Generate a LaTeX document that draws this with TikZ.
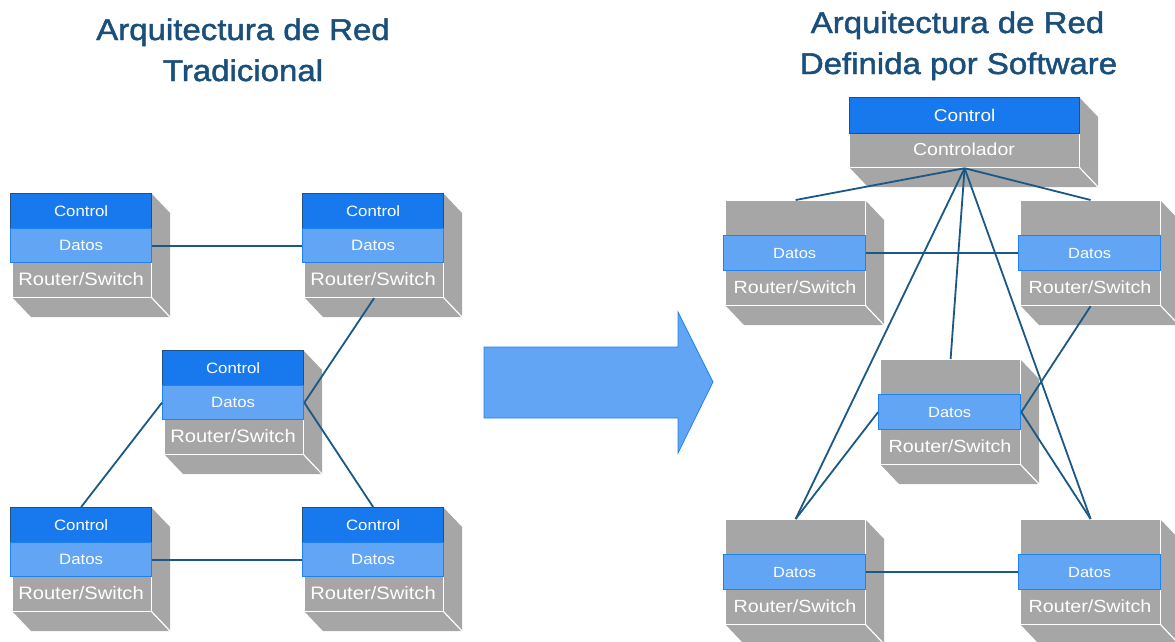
\documentclass[tikz,border=0pt]{standalone}
\usepackage{fontspec}
\setmainfont[FakeStretch=1.12]{Liberation Sans}
\newfontfamily\titlefont[FakeStretch=1.1, FakeBold=1.6]{Liberation Sans}

\definecolor{boxgray}{HTML}{A6A6A6}
\definecolor{ctrlblue}{HTML}{1878EE}
\definecolor{ctrlborder}{HTML}{21527F}
\definecolor{datosblue}{HTML}{62A5F5}
\definecolor{datosborder}{HTML}{1E82F0}
\definecolor{linkblue}{HTML}{1A5886}
\definecolor{titleblue}{HTML}{1B4F7B}

\tikzset{
  front/.style={draw=white, fill=boxgray, line width=1.2pt, inner sep=0pt, anchor=north west},
  ctrlband/.style={draw=ctrlborder, fill=ctrlblue, line width=1.3pt, text=white,
    inner sep=0pt, anchor=north west, font=\fontsize{15}{18}\selectfont},
  datosband/.style={draw=datosborder, fill=datosblue, line width=1.3pt, text=white,
    inner sep=0pt, anchor=north west, font=\fontsize{15}{18}\selectfont},
  boxtext/.style={text=white, inner sep=0pt, font=\fontsize{18}{21}\selectfont},
  link/.style={draw=linkblue, line width=1.8pt},
  title/.style={text=titleblue, anchor=base, inner sep=0pt, font=\titlefont\fontsize{30}{35}\selectfont}
}

% router with its own control plane: #1 name, (#2,#3) top-left of the front face
\newcommand\legacynode[3]{%
  \begin{scope}[shift={(#2,#3)}]
    \fill[boxgray] (141,0) -- (160,20) -- (160,124) -- (21,124) -- (2,104) -- (141,104) -- cycle;
    \draw[white, line width=1.2pt] (141,104) -- (160,124);
    \node[front, minimum width=139pt, minimum height=104pt] (#1) at (2,0) {};
    \node[ctrlband, minimum width=141pt, minimum height=35pt] (#1C) at (0,0) {Control};
    \node[datosband, minimum width=141pt, minimum height=34pt] (#1D) at (0,35) {Datos};
    \node[boxtext] (#1R) at (71,86.5) {Router/Switch};
  \end{scope}}

% data-plane-only switch: #1 name, (#2,#3) top-left of the front face
\newcommand\sdnnode[3]{%
  \begin{scope}[shift={(#2,#3)}]
    \fill[boxgray] (140,0) -- (159,20) -- (159,125) -- (19,125) -- (0,105) -- (140,105) -- cycle;
    \draw[white, line width=1.2pt] (140,105) -- (159,125);
    \node[front, minimum width=140pt, minimum height=105pt] (#1) at (0,0) {};
    \node[datosband, minimum width=142pt, minimum height=35pt, font=\fontsize{14.7}{17}\selectfont] (#1D) at (-2,35) {Datos};
    \node[boxtext, font=\fontsize{17.6}{20}\selectfont] (#1R) at (70,87.5) {Router/Switch};
  \end{scope}}

\begin{document}
\begin{tikzpicture}[x=1pt, y=-1pt]
  \useasboundingbox (0,0) rectangle (1175,641);

  % titles
  \node[title] (ltA) at (243,40) {Arquitectura de Red};
  \node[title] (ltB) at (243,81) {Tradicional};
  \node[title] (rtA) at (957.5,33) {Arquitectura de Red};
  \node[title] (rtB) at (958.5,74) {Definida por Software};

  % traditional network
  \legacynode{lTL}{10}{193}
  \legacynode{lTR}{302}{193}
  \legacynode{lC}{162}{350}
  \legacynode{lBL}{10}{507}
  \legacynode{lBR}{302}{507}

  \draw[link] (lTLD.east) -- (lTRD.west);
  \draw[link] (lTR.south) -- (lCD.east);
  \draw[link] (lCD.west) -- (lBLC.north);
  \draw[link] (lCD.east) -- (lBRC.north);
  \draw[link] (lBLD.east) -- (lBRD.west);

  % transition arrow
  \filldraw[fill=datosblue, draw=datosborder, line width=0.8pt]
    (484,347) -- (678,347) -- (678,312) -- (713,382) -- (678,453) -- (678,418) -- (484,418) -- cycle;

  % software-defined network: controller
  \begin{scope}[shift={(849,97)}]
    \fill[boxgray] (230,0) -- (249,20) -- (249,90) -- (19,90) -- (0,70) -- (230,70) -- cycle;
    \draw[white, line width=1.2pt] (230,70) -- (249,90);
    \node[front, minimum width=230pt, minimum height=70pt] (ctl) at (0,0) {};
    \node[ctrlband, minimum width=230pt, minimum height=36pt, font=\fontsize{17}{20}\selectfont] (ctlC) at (0,0) {Control};
    \node[boxtext, font=\fontsize{17.4}{20}\selectfont] (ctlR) at (115,52) {Controlador};
  \end{scope}

  \sdnnode{sTL}{725}{200}
  \sdnnode{sTR}{1020}{200}
  \sdnnode{sC}{880}{359}
  \sdnnode{sBL}{725}{519}
  \sdnnode{sBR}{1020}{519}

  \draw[link] (ctl.south) -- (sTL.north);
  \draw[link] (ctl.south) -- (sTR.north);
  \draw[link] (ctl.south) -- (sC.north);
  \draw[link] (ctl.south) -- (sBL.north);
  \draw[link] (ctl.south) -- (sBR.north);
  \draw[link] (sTLD.east) -- (sTRD.west);
  \draw[link] (sCD.west) -- (sBL.north);
  \draw[link] (sCD.east) -- (sTR.south);
  \draw[link] (sCD.east) -- (sBR.north);
  \draw[link] (sBLD.east) -- (sBRD.west);
\end{tikzpicture}
\end{document}
